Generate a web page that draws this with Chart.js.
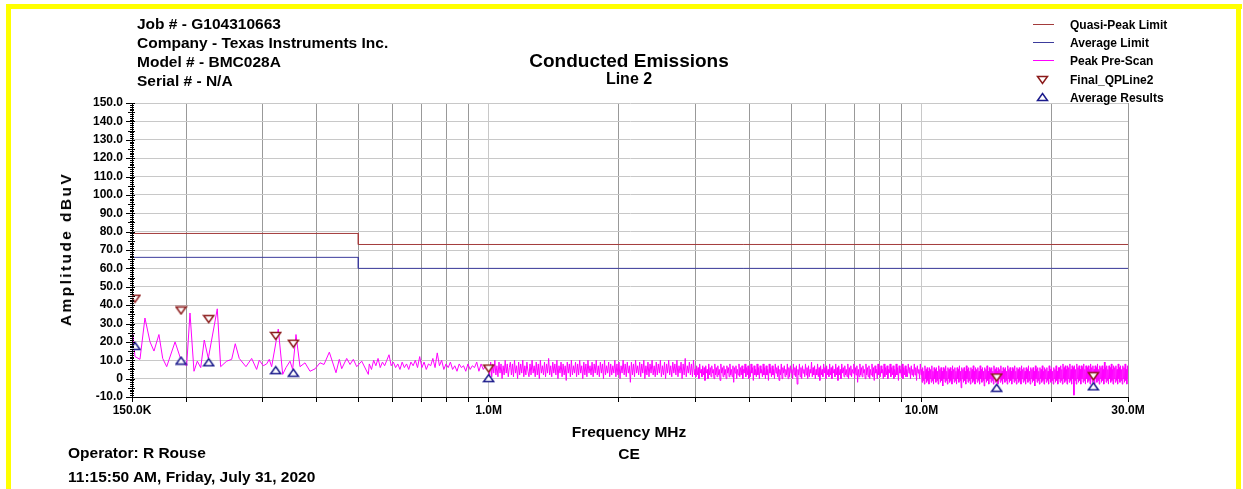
<!DOCTYPE html>
<html><head><meta charset="utf-8">
<script src="https://cdn.jsdelivr.net/npm/chart.js@4.4.0/dist/chart.umd.min.js"></script>
<style>
html,body{margin:0;padding:0;background:#fff;}
#wrap{position:relative;width:1243px;height:489px;overflow:hidden;font-family:"Liberation Sans",Arial,sans-serif;font-weight:bold;color:#000;background:#fff;}
#c{position:absolute;left:0;top:0;}
.t{position:absolute;white-space:nowrap;}
.h{font-size:15.5px;line-height:18px;}
.lg{font-size:12px;line-height:14px;left:1070px;}
.ls{position:absolute;left:1033px;width:21px;height:1px;}
.y{position:absolute;background:#ffff00;}
</style></head>
<body>
<div id="wrap">
<canvas id="c" width="1243" height="489"></canvas>
<div class="y" style="left:6px;top:4px;width:1236px;height:5px"></div>
<div class="y" style="left:6px;top:4px;width:5px;height:485px"></div>
<div class="y" style="left:1236px;top:4px;width:5px;height:485px"></div>

<div class="t h" style="left:137px;top:15px">Job # - G104310663</div>
<div class="t h" style="left:137px;top:34px">Company - Texas Instruments Inc.</div>
<div class="t h" style="left:137px;top:53px">Model # - BMC028A</div>
<div class="t h" style="left:137px;top:72px">Serial # - N/A</div>

<div class="t" style="left:629px;top:50px;font-size:19px;line-height:22px;transform:translateX(-50%)">Conducted Emissions</div>
<div class="t" style="left:629px;top:70px;font-size:16px;line-height:18px;transform:translateX(-50%)">Line 2</div>

<div class="ls" style="top:24px;background:#a33b3b"></div>
<div class="t lg" style="top:18px">Quasi-Peak Limit</div>
<div class="ls" style="top:42px;background:#3c3c9c"></div>
<div class="t lg" style="top:36px">Average Limit</div>
<div class="ls" style="top:60px;background:#ff00ff"></div>
<div class="t lg" style="top:54px">Peak Pre-Scan</div>
<svg style="position:absolute;left:1036px;top:75px" width="13" height="10"><path d="M1.5 1.5 L11.5 1.5 L6.5 8.5 Z" fill="#fff" stroke="#8b1a1a" stroke-width="1.5"/></svg>
<div class="t lg" style="top:73px">Final_QPLine2</div>
<svg style="position:absolute;left:1036px;top:92px" width="13" height="10"><path d="M6.5 1.5 L11.5 8.5 L1.5 8.5 Z" fill="#fff" stroke="#1a1a8b" stroke-width="1.5"/></svg>
<div class="t lg" style="top:91px">Average Results</div>

<div class="t h" style="left:66px;top:249px;letter-spacing:2.4px;transform:translate(-50%,-50%) rotate(-90deg)">Amplitude dBuV</div>
<div class="t h" style="left:629px;top:423px;transform:translateX(-50%)">Frequency MHz</div>
<div class="t h" style="left:629px;top:445px;transform:translateX(-50%)">CE</div>
<div class="t h" style="left:68px;top:444px">Operator: R Rouse</div>
<div class="t h" style="left:68px;top:468px">11:15:50 AM, Friday, July 31, 2020</div>
</div>
<script>
// ---------- axis ticks ----------
const xGridMHz = [0.15,0.2,0.3,0.4,0.5,0.6,0.7,0.8,0.9,1,2,3,4,5,6,7,8,9,10,20,30];
const xTickText = ['150.0K','','','','','','','','','1.0M','','','','','','','','','10.0M','','30.0M'];
const yTickValues = [-10,0,10,20,30,40,50,60,70,80,90,100,110,120,130,140,150];
const yTickText = ['-10.0','0','10.0','20.0','30.0','40.0','50.0','60.0','70.0','80.0','90.0','100.0','110.0','120.0','130.0','140.0','150.0'];

// ---------- limits ----------
const qpLimitFreqMHz = [0.15,0.5,0.5,30];
const qpLimitDbuv = [79,79,73,73];
const avgLimitFreqMHz = [0.15,0.5,0.5,30];
const avgLimitDbuv = [66,66,60,60];

// ---------- final measurements ----------
const qpFreqMHz = [0.1524,0.1947,0.2256,0.3222,0.3539,1.0,14.92,24.95];
const qpDbuv = [43.5,37.1,32.4,23.2,19.0,5.5,0.6,1.3];
const avgFreqMHz = [0.1524,0.1947,0.2256,0.3222,0.3539,1.0,14.92,24.95];
const avgDbuv = [17.8,9.8,8.9,4.6,3.2,0.3,-5.0,-4.2];

// ---------- peak pre-scan ----------
const lowScanFreqMHz = [0.1508,0.1524,0.1565,0.1607,0.1651,0.1686,0.1731,0.1766,0.1804,0.1886,0.1954,0.2006,0.2042,0.2086,0.2123,0.2162,0.2203,0.2251,0.2361,0.2404,0.2482,0.2549,0.2598,0.2654,0.2750,0.2835,0.2911,0.2952,0.3015,0.3070,0.3113,0.3153,0.3266,0.3344,0.3403,0.3476,0.3526,0.3589,0.3666,0.3765,0.3867,0.3971,0.4078,0.4166,0.4285,0.4440,0.4519,0.4577,0.4700,0.4784,0.4868,0.4957,0.5091,0.5273];
const lowScanDbuv = [24,12,10.5,33,20,15,24,11,6.5,20,9,7,35.7,4,9.5,6,21,11,38,6.5,9.5,10.5,19,11,6.5,11,5,10,7,8,10.5,6.5,27,2.3,6,9.5,5,24,6.5,8.6,4,5.3,8.6,7.7,14.4,3.2,10.5,5.4,11,7.7,10.5,6.5,9.5,2.3];
const midScanSweepMHz = [0.53,0.995];
const midScanDbuv = [8,5,10,7,11,6,9,7,10,13,7,9,6,8,5,9,6,8,5,9,7,10,6,12,6,9,5,8,7,11,6,14,7,10,5,8,6,9,5,7,4,8,6,7,4,8,5,7,6,9,4,8,5,7,5];
const band1SweepMHz = [1.0,2.99];
const band1Dbuv = [
7,2,9,1,8,3,10,2,7,1,9,3,8,0,7,2,10,3,8,1,
6,9,2,8,1,10,3,7,0,9,2,8,3,10,1,7,2,9,4,1,
8,2,10,3,7,1,9,2,8,0,10,3,7,2,9,1,8,3,11,2,
7,1,9,3,8,2,10,0,7,3,9,1,8,2,7,-1,9,3,8,1,
10,2,7,3,9,1,8,2,10,3,7,0,9,2,8,1,10,3,7,2,
9,1,8,3,10,2,7,1,9,3,8,0,10,2,7,3,9,1,8,2,
7,3,10,1,8,2,9,0,7,3,10,2,8,1,9,3,7,-2,9,2,
8,1,10,3,7,2,9,1,8,3,10,0,7,2,9,1,8,3,10,2,
7,1,9,2,8,3,10,1,7,2,9,0,8,3,10,2,7,1,9,3,
8,2,10,1,7,3,9,0,8,2,11,1,7,3,9,2,8,1,10,2];
const band2SweepMHz = [3.0,9.98];
const band2Dbuv = [
5,1,7,2,6,0,8,3,5,1,7,2,6,-1,7,3,5,0,8,2,
6,1,7,3,5,0,8,2,6,1,7,2,5,-1,8,3,6,1,7,2,
5,0,7,3,6,1,8,2,5,1,7,-2,6,3,7,0,5,2,8,1,
6,2,7,0,5,3,8,1,6,2,7,0,5,1,8,3,6,-1,7,2,
5,1,8,2,6,0,7,3,5,1,8,2,6,0,7,2,5,-1,8,3,
6,1,7,2,5,0,8,3,6,1,7,-1,5,2,8,0,6,3,7,1,
5,2,8,0,6,1,7,3,5,0,8,2,6,1,7,-3,5,2,8,1,
6,0,7,3,5,1,8,2,6,0,7,1,5,3,9,1,6,2,7,0,
5,2,8,1,6,-1,7,2,5,1,8,3,6,0,7,2,5,1,8,2,
6,0,7,3,5,1,8,2,6,-1,7,2,5,0,8,3,6,1,7,2,
5,1,8,0,6,2,7,1,5,3,8,0,6,2,7,-2,5,1,8,2,
6,1,7,3,5,0,8,2,6,1,7,0,5,2,8,1,6,-1,7,3,
5,0,8,2,6,1,7,3,5,0,8,1,6,2,7,0,5,3,8,1,
6,2,7,0,5,1,8,2,6,-1,7,3,5,1,8,0,6,2,7,1,
5,1,8,3,6,0,7,2,5,1,8,2,6,-1,7,3,5,0,8,2];
const band3SweepMHz = [10.0,30.0];
const band3Dbuv = [
5,-2,6,-1,4,-3,7,0,5,-2,6,-1,4,-3,6,0,5,-2,7,-1,
4,-3,6,0,5,-2,6,-1,4,-3,7,0,5,-2,6,-1,4,-4,6,0,
5,-2,7,-1,4,-3,6,0,5,-2,6,-1,4,-3,7,0,5,-2,6,-1,
4,-3,6,0,5,-2,7,-1,4,-5,6,0,5,-2,6,-1,4,-3,7,0,
5,-2,6,-1,4,-3,6,0,5,-2,7,-1,4,-3,6,0,5,-2,6,-1,
4,-3,7,0,5,-2,6,-1,4,-4,6,0,5,-2,7,-1,4,-3,6,0,
5,-2,6,-1,4,-3,7,0,5,-2,6,-1,4,-3,6,0,5,-2,7,-1,
4,-3,6,0,5,-2,6,-1,4,-3,7,0,5,-2,6,-1,4,-3,6,0,
5,-2,7,-1,4,-3,6,0,5,-2,6,-1,4,-3,7,0,5,-2,6,-1,
4,-3,6,0,5,-2,7,-1,4,-3,6,0,5,-2,6,-1,4,-4,7,0,
5,-2,6,-1,4,-3,6,0,5,-2,7,-1,4,-3,6,0,5,-2,6,-1,
4,-3,7,0,5,-2,6,-1,4,-3,6,0,5,-2,7,-1,4,-3,6,0,
6,-2,7,-1,5,-3,8,0,6,-2,7,-1,5,-3,7,0,6,-2,8,-1,
5,-3,7,0,6,-9,7,-1,5,-3,8,0,6,-2,7,-1,5,-3,7,0,
6,-2,8,-1,5,-3,7,0,6,-2,7,-1,5,-3,8,0,6,-2,7,-1,
5,-3,7,0,6,-2,8,-1,5,-3,7,0,6,-2,7,-1,5,-3,9,0,
6,-2,7,-1,5,-3,7,0,6,-2,8,-1,5,-3,7,0,6,-2,7,-1,
5,-3,8,0,6,-2,7,-1,5,-3,7,0,6,-2,8,-1,5,-3,7,0];

// ---------- build ----------
function pairs(fs, vs){ return fs.map((f,i)=>({x:f,y:vs[i]})); }
function sweep(edges, vs){ const n=vs.length, f0=edges[0], f1=edges[1]; return vs.map((v,i)=>({x:f0*Math.pow(f1/f0,i/(n-1)),y:v})); }
const scanPoints = pairs(lowScanFreqMHz, lowScanDbuv)
  .concat(sweep(midScanSweepMHz, midScanDbuv))
  .concat(sweep(band1SweepMHz, band1Dbuv))
  .concat(sweep(band2SweepMHz, band2Dbuv))
  .concat(sweep(band3SweepMHz, band3Dbuv));

function triCanvas(down, color){
  const c=document.createElement('canvas'); c.width=13; c.height=10;
  const g=c.getContext('2d'); g.beginPath();
  if(down){ g.moveTo(1.5,1.5); g.lineTo(11.5,1.5); g.lineTo(6.5,8.5); }
  else { g.moveTo(6.5,1.5); g.lineTo(11.5,8.5); g.lineTo(1.5,8.5); }
  g.closePath(); g.fillStyle='#fff'; g.fill(); g.strokeStyle=color; g.lineWidth=1.5; g.stroke();
  return c;
}
const downTri = triCanvas(true,'#8b1a1a');
const upTri = triCanvas(false,'#1a1a8b');

const FONT = '"Liberation Sans", Arial, sans-serif';

const yRuler = {
  id:'yRuler',
  afterDatasetsDraw(chart){
    const {ctx, chartArea, scales:{y}} = chart;
    ctx.save(); ctx.strokeStyle='#000'; ctx.lineWidth=1;
    for(let v=y.min; v<=y.max; v++){
      const py=Math.round(y.getPixelForValue(v))+0.5;
      let l=2, r=2;
      if(v%10===0){ l=6; r=3; } else if(v%5===0){ l=4; r=3; }
      ctx.beginPath(); ctx.moveTo(chartArea.left-l, py); ctx.lineTo(chartArea.left+r, py); ctx.stroke();
    }
    ctx.restore();
  }
};

new Chart(document.getElementById('c'), {
  type:'line',
  data:{ datasets:[
    {label:'Final_QPLine2', data:pairs(qpFreqMHz,qpDbuv), showLine:false, pointStyle:downTri, pointRadius:5, order:0},
    {label:'Average Results', data:pairs(avgFreqMHz,avgDbuv), showLine:false, pointStyle:upTri, pointRadius:5, order:1},
    {label:'Quasi-Peak Limit', data:pairs(qpLimitFreqMHz,qpLimitDbuv), borderColor:'#a33b3b', borderWidth:1, pointRadius:0, order:2},
    {label:'Average Limit', data:pairs(avgLimitFreqMHz,avgLimitDbuv), borderColor:'#3c3c9c', borderWidth:1, pointRadius:0, order:3},
    {label:'Peak Pre-Scan', data:scanPoints, borderColor:'#ff00ff', borderWidth:1, pointRadius:0, order:4}
  ]},
  options:{
    responsive:false, animation:false, devicePixelRatio:1,
    layout:{padding:{left:0,right:115,top:103,bottom:0}},
    plugins:{legend:{display:false}, tooltip:{enabled:false}, title:{display:false}},
    elements:{line:{tension:0}},
    scales:{
      x:{type:'logarithmic', min:0.15, max:30,
        afterFit(s){ s.height=92; },
        afterBuildTicks(s){ s.ticks = xGridMHz.map(v=>({value:v})); },
        ticks:{autoSkip:false, maxRotation:0, minRotation:0, padding:1, color:'#000',
          font:{family:FONT, size:12, weight:'bold'}, callback:(v,i)=>xTickText[i]},
        grid:{color:(c)=>{ const v=c.tick&&c.tick.value; return (v===1||v===10)?'#c8c8c8':'#999999'; }, lineWidth:1, drawTicks:true, tickLength:5, tickColor:'#000'},
        border:{color:'#000', width:1}
      },
      y:{min:-10, max:150,
        afterFit(s){ s.width=132; },
        afterBuildTicks(s){ s.ticks = yTickValues.map(v=>({value:v})); },
        ticks:{padding:9, color:'#000', font:{family:FONT, size:12, weight:'bold'}, callback:(v,i)=>yTickText[i]},
        grid:{color:'#c8c8c8', lineWidth:1, drawTicks:false},
        border:{color:'#000', width:1}
      }
    }
  },
  plugins:[yRuler]
});
</script>
</body></html>
